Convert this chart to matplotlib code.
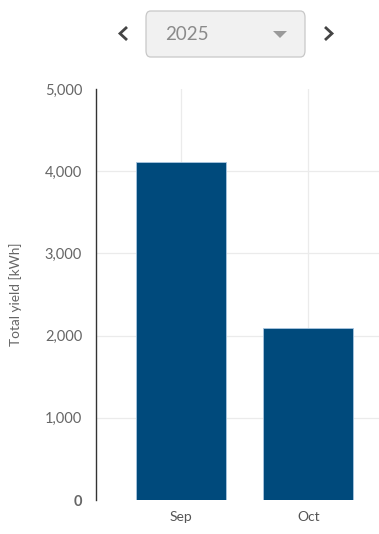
import matplotlib.pyplot as plt
from matplotlib.patches import FancyBboxPatch, Polygon
from matplotlib.lines import Line2D
import numpy as np

# data
months = ['Sep', 'Oct']
yields = [4110, 2095]
yticks = [0, 1000, 2000, 3000, 4000, 5000]
year = '2025'

plt.rcParams['font.family'] = ['Lato', 'DejaVu Sans']

fig = plt.figure(figsize=(3.79, 5.34), dpi=100)
ax = fig.add_axes([96/379, 34/534, 283/379, 411/534])

x = np.arange(len(months))
ax.bar(x, yields, width=0.71, color='#004a7c', edgecolor='#a9c6e0', linewidth=0.6, zorder=3)

ax.set_xlim(-0.672, 1.557)
ax.set_ylim(0, 5000)
ax.set_xticks(x)
ax.set_xticklabels(months)
ax.set_yticks(yticks)
ax.set_yticklabels(['{:,}'.format(v) for v in yticks])
ax.yaxis.get_ticklabels()[0].set_fontweight('bold')
ax.yaxis.get_ticklabels()[0].set_color('#444444')

ax.grid(True, color='#ebebeb', linewidth=0.9, zorder=0)
ax.yaxis.get_gridlines()[-1].set_visible(False)
ax.yaxis.get_gridlines()[0].set_visible(False)

for s in ['top', 'right', 'bottom']:
    ax.spines[s].set_visible(False)
ax.spines['left'].set_color('#333333')
ax.spines['left'].set_linewidth(1.0)

ax.tick_params(axis='y', length=0, pad=10, labelsize=10.5, labelcolor='#666666')
ax.tick_params(axis='x', length=0, pad=8, labelsize=10, labelcolor='#555555')
ax.set_yticks([0, 5000], minor=True)
ax.tick_params(axis='y', which='minor', length=3, width=1, color='#333333')

ax.set_ylabel('Total yield [kWh]', fontsize=9.8, color='#666666')
ax.yaxis.set_label_coords(-0.262, 0.5)

# year selector above the chart
box = FancyBboxPatch((146/379, 1 - 57/534), 159/379, 46/534,
                     boxstyle='round,pad=0,rounding_size=0.012',
                     transform=fig.transFigure, facecolor='#f1f1f1',
                     edgecolor='#c8c8c8', linewidth=0.9)
fig.patches.append(box)
fig.text(165/379, 1 - 34/534, year, fontsize=13.5, color='#8a8a8a', va='center', ha='left')
tri = Polygon([(273/379, 1 - 31/534), (287/379, 1 - 31/534), (280/379, 1 - 38/534)],
              closed=True, transform=fig.transFigure, facecolor='#9a9a9a', edgecolor='none')
fig.patches.append(tri)

# prev / next chevrons
for xs in ([127, 120, 127], [325, 332, 325]):
    fig.lines.append(Line2D([v/379 for v in xs], [1 - 27/534, 1 - 33.5/534, 1 - 40/534],
                            transform=fig.transFigure, color='#444444', linewidth=2.0,
                            solid_capstyle='butt', solid_joinstyle='miter'))

fig.savefig('out.png', dpi=100)
